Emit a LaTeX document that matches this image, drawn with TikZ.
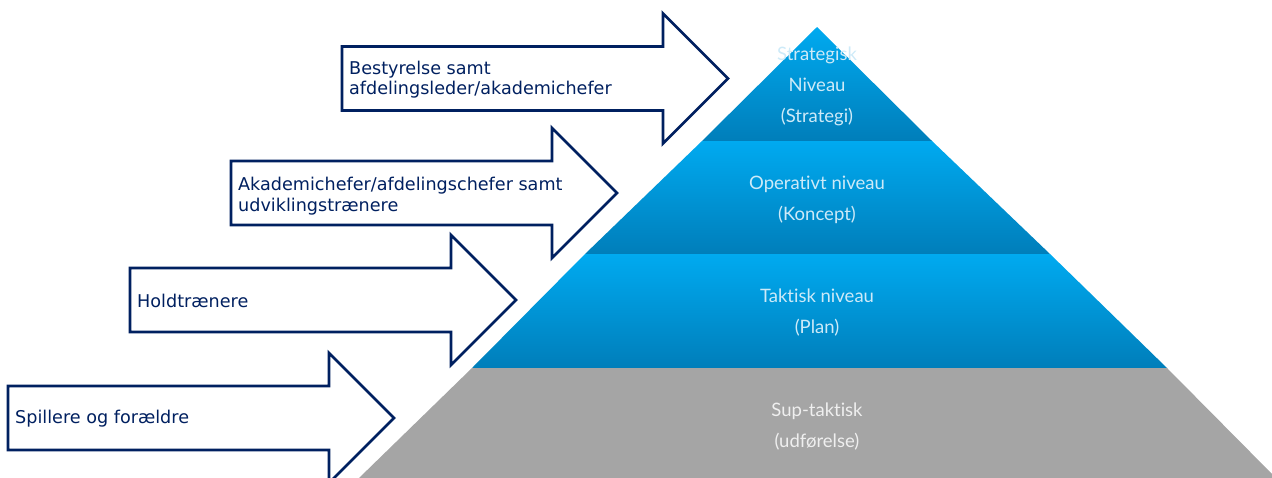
\documentclass[tikz,border=0pt]{standalone}
\usepackage{fontspec}
\newfontfamily\arrowfont{DejaVu Sans}
\newfontfamily\pyrfont{Lato}[Ligatures=NoCommon]
\definecolor{navy}{RGB}{0,32,96}
\definecolor{bluetop}{RGB}{0,170,240}
\definecolor{bluebot}{RGB}{0,126,186}
\definecolor{greyband}{RGB}{165,165,165}
\definecolor{pyrtext}{RGB}{205,234,248}
\tikzset{
  arrowshape/.style={draw=navy, line width=2.7pt, fill=white, line join=miter},
  arrowlabel/.style={anchor=base west, inner sep=0pt, text=navy, font=\arrowfont\fontsize{17.6}{20}\selectfont},
  blueband/.style={top color=bluetop, bottom color=bluebot, draw=none},
  greyfill/.style={fill=greyband, draw=none},
  pyrlabel/.style={anchor=base, inner sep=0pt, text=pyrtext, font=\pyrfont\fontsize{18.5}{22}\selectfont},
  greylabel/.style={pyrlabel, text=white!82!greyband},
  pics/bigarrow/.style={code={
    \path[arrowshape] (0,-32) -- (321,-32) -- (321,-65) -- (386,0) -- (321,65) -- (321,32) -- (0,32) -- cycle;
  }}
}
\begin{document}
\begin{tikzpicture}[x=1pt,y=-1pt]
\useasboundingbox (0,0) rectangle (1272,477);
\begin{scope}
\clip (0,0) rectangle (1272,477);
% pyramid bands
\path[blueband] (817,27) -- (932,141) -- (702,141) -- cycle;
\path[blueband] (702,141) -- (932,141) -- (1050,254) -- (585,254) -- cycle;
\path[blueband] (585,254) -- (1050,254) -- (1167,368) -- (472,368) -- cycle;
\path[greyfill] (472,368) -- (1167,368) -- (1277,479) -- (358,479) -- cycle;
% pyramid labels
\node[pyrlabel] (s1) at (817,60) {Strategisk};
\node[pyrlabel] (s2) at (817,91) {Niveau};
\node[pyrlabel] (s3) at (817,122) {(Strategi)};
\node[pyrlabel] (o1) at (817,189) {Operativt niveau};
\node[pyrlabel] (o2) at (817,220) {(Koncept)};
\node[pyrlabel] (t1) at (817,302) {Taktisk niveau};
\node[pyrlabel] (t2) at (817,333) {(Plan)};
\node[greylabel] (u1) at (817,416) {Sup-taktisk};
\node[greylabel] (u2) at (817,447) {(udførelse)};
% arrows
\pic at (342,78.5) {bigarrow};
\pic at (231,193) {bigarrow};
\pic at (130,300) {bigarrow};
\pic at (8,418) {bigarrow};
\end{scope}
% arrow labels
\node[arrowlabel] (a1) at (349,74) {Bestyrelse samt};
\node[arrowlabel] (a2) at (349,94) {afdelingsleder/akademichefer};
\node[arrowlabel] (b1) at (238,190) {Akademichefer/afdelingschefer samt};
\node[arrowlabel] (b2) at (238,211) {udviklingstrænere};
\node[arrowlabel] (c1) at (137,307) {Holdtrænere};
\node[arrowlabel] (d1) at (15,423) {Spillere og forældre};
\end{tikzpicture}
\end{document}
